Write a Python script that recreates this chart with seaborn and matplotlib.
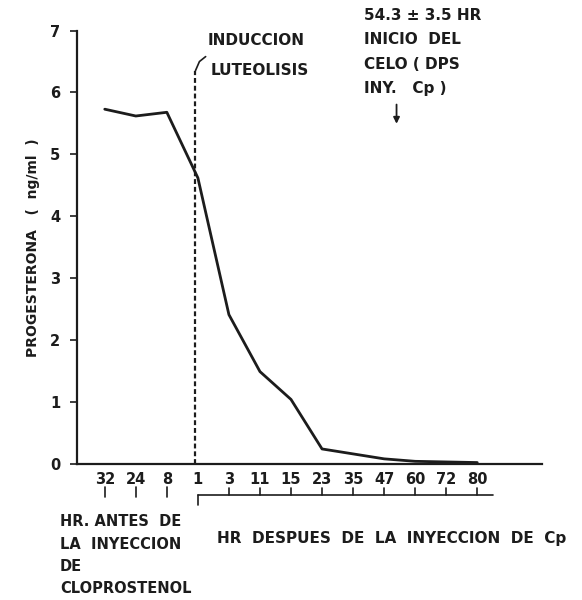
import numpy as np
import pandas as pd
import matplotlib.pyplot as plt
import matplotlib.transforms as mtransforms
import seaborn as sns

# horas (antes / despues de la inyeccion de cloprostenol)
hours = ['32', '24', '8', '1', '3', '11', '15', '23', '35', '47', '60', '72', '80']
progesterona = [5.73, 5.62, 5.68, 4.62, 2.41, 1.49, 1.04, 0.24, 0.16, 0.08, 0.04, 0.03, 0.02]
n_antes = 3
yticks = list(range(8))
celo_hr = 9.4  # position of the "inicio del celo" arrow on the hour scale

sns.set_theme(style='white')
plt.rcParams['font.family'] = ['DejaVu Sans']
plt.rcParams['font.weight'] = 'bold'
ink = '#1c1c1c'

df = pd.DataFrame({'pos': np.arange(len(hours)), 'prog': progesterona})

fig = plt.figure(figsize=(5.82, 6.0), dpi=100)
ax = fig.add_axes([0.132, 0.227, 0.80, 0.722])
sns.lineplot(data=df, x='pos', y='prog', color=ink, lw=2, ax=ax)

ax.set_xlim(-0.9, 14.1)
ax.set_ylim(0, 7)
ax.axvline(n_antes - 0.08, ymax=6.35 / 7, color=ink, ls=(0, (2.2, 1.3)), lw=1.6)

for s in ['top', 'right']:
    ax.spines[s].set_visible(False)
for s in ['left', 'bottom']:
    ax.spines[s].set_color(ink)
    ax.spines[s].set_linewidth(1.6)

ax.set_xticks(df['pos'], hours)
ax.set_yticks(yticks)
ax.tick_params(axis='x', length=0, pad=6, labelsize=10.5, colors=ink)
ax.tick_params(axis='y', length=5, width=1.2, direction='out', pad=7,
               left=True, labelsize=10.5, colors=ink)
for lab in ax.get_xticklabels() + ax.get_yticklabels():
    lab.set_fontweight('bold')
ax.set_xlabel('')
ax.set_ylabel('')

# marks under the hour labels
tr = mtransforms.blended_transform_factory(ax.transData, ax.transAxes)
for p in df['pos'][:n_antes]:
    ax.plot([p, p], [-0.053, -0.076], color=ink, lw=1.2, transform=tr, clip_on=False)
post = df['pos'][n_antes + 1:]
ax.plot([n_antes, post.iloc[-1] + 0.5], [-0.073, -0.073], color=ink, lw=1.2,
        transform=tr, clip_on=False)
ax.plot([n_antes, n_antes], [-0.073, -0.095], color=ink, lw=1.2, transform=tr, clip_on=False)
for p in post:
    ax.plot([p, p], [-0.055, -0.073], color=ink, lw=1.2, transform=tr, clip_on=False)

# luteolisis hook
ax.plot([n_antes - 0.08, n_antes + 0.05, n_antes + 0.25], [6.35, 6.5, 6.58],
        color=ink, lw=1.2)
ax.annotate('', xy=(celo_hr, 5.45), xytext=(celo_hr, 5.85),
            arrowprops=dict(arrowstyle='-|>', color=ink, lw=1.3, mutation_scale=9))

fs = 11
fig.text(0.357, 0.933, 'INDUCCION', fontsize=fs, fontweight='bold', color=ink, va='center')
fig.text(0.362, 0.883, 'LUTEOLISIS', fontsize=fs, fontweight='bold', color=ink, va='center')
for i, t in enumerate(['54.3 \u00b1 3.5 HR', 'INICIO  DEL', 'CELO ( DPS', 'INY.   Cp )']):
    fig.text(0.625, 0.975 - i * 0.041, t, fontsize=fs, fontweight='bold', color=ink, va='center')

fb = 10.5
for i, t in enumerate(['HR. ANTES  DE', 'LA  INYECCION', 'DE', 'CLOPROSTENOL']):
    fig.text(0.103, 0.13 - i * 0.037, t, fontsize=fb, fontweight='bold', color=ink, va='center')
fig.text(0.373, 0.103, 'HR  DESPUES  DE  LA  INYECCION  DE  Cp', fontsize=11,
         fontweight='bold', color=ink, va='center')

fig.text(0.057, 0.587, 'PROGESTERONA   (  ng/ml  )', rotation=90, fontsize=10,
         fontweight='bold', color=ink, va='center', ha='center')

fig.savefig('out.png', dpi=100, facecolor='white')
